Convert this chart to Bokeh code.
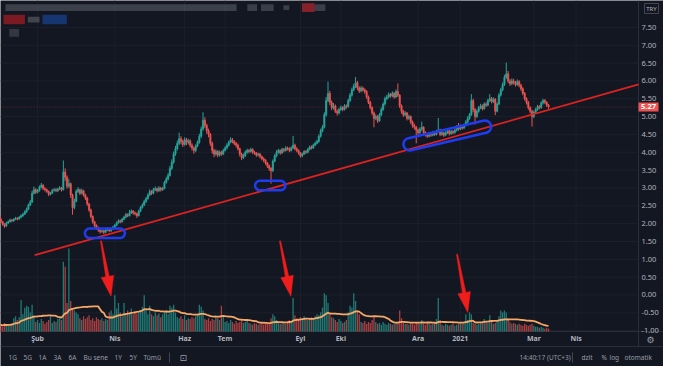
import numpy as np
import pandas as pd
from bokeh.plotting import figure
from bokeh.models import Range1d, ColumnDataSource
from bokeh.core.properties import value
from bokeh.embed import file_html
from bokeh.resources import INLINE

# ---------------- data ----------------
first_open = 2.22
closes = [
    2.18, 2.12, 2.05, 1.98, 1.93, 2.02, 2.05, 2.10, 2.08, 2.12,
    2.15, 2.13, 2.18, 2.22, 2.26, 2.33, 2.40, 2.52, 2.60, 2.85,
    2.95, 2.88, 2.92, 3.02, 3.08, 2.98, 2.95, 2.90, 2.82, 2.85,
    2.93, 2.95, 2.92, 2.97, 3.00, 2.95, 3.45, 3.30, 3.05, 3.12,
    2.80, 2.45, 2.62, 2.90, 2.95, 2.85, 2.92, 2.80, 2.72, 2.55,
    2.38, 2.20, 2.05, 1.95, 1.88, 1.82, 1.78, 1.80, 1.76, 1.82,
    1.85, 1.80, 1.86, 1.90, 1.95, 2.02, 2.08, 2.05, 2.12, 2.18,
    2.25, 2.22, 2.30, 2.35, 2.30, 2.28, 2.22, 2.35, 2.45, 2.52,
    2.62, 2.70, 2.80, 2.90, 2.85, 2.95, 2.98, 2.92, 3.00, 2.95,
    2.98, 3.15, 3.25, 3.35, 3.55, 3.72, 3.95, 4.10, 4.25, 4.38,
    4.30, 4.22, 4.35, 4.28, 4.32, 4.20, 4.12, 4.05, 4.18, 4.28,
    4.45, 4.65, 4.90, 4.75, 4.60, 4.50, 4.25, 4.05, 3.95, 4.02,
    3.92, 4.00, 3.95, 4.05, 4.12, 4.20, 4.28, 4.35, 4.30, 4.25,
    4.20, 4.10, 3.95, 3.85, 3.90, 4.00, 4.05, 4.02, 4.08, 4.00,
    3.98, 3.92, 3.95, 3.88, 3.82, 3.78, 3.70, 3.62, 3.55, 3.48,
    3.75, 3.90, 4.00, 4.05, 3.98, 4.08, 4.05, 4.12, 4.10, 4.05,
    4.12, 4.20, 4.10, 4.05, 3.98, 3.90, 3.95, 4.02, 4.00, 4.08,
    4.15, 4.12, 4.20, 4.25, 4.30, 4.45, 4.60, 4.70, 5.05, 5.45,
    5.65, 5.40, 5.25, 5.30, 5.15, 5.10, 5.20, 5.25, 5.20, 5.30,
    5.28, 5.45, 5.60, 5.75, 5.85, 5.95, 5.80, 5.72, 5.80, 5.75,
    5.70, 5.55, 5.40, 5.25, 5.10, 4.95, 5.00, 4.88, 5.05, 5.20,
    5.35, 5.50, 5.55, 5.62, 5.58, 5.65, 5.55, 5.70, 5.60, 5.30,
    5.15, 5.05, 5.10, 4.95, 5.00, 4.85, 4.75, 4.70, 4.62, 4.55,
    4.65, 4.70, 4.55, 4.50, 4.45, 4.52, 4.48, 4.55, 4.50, 4.58,
    4.62, 4.50, 4.55, 4.48, 4.55, 4.60, 4.52, 4.58, 4.55, 4.62,
    4.70, 4.65, 4.72, 4.68, 4.75, 4.85, 4.95, 5.05, 5.45, 5.20,
    5.00, 5.15, 5.25, 5.30, 5.22, 5.35, 5.32, 5.45, 5.50, 5.42,
    5.48, 5.15, 5.35, 5.60, 5.75, 5.90, 6.10, 6.20, 6.00, 5.92,
    6.00, 5.95, 5.90, 5.98, 5.88, 5.78, 5.65, 5.50, 5.40, 5.25,
    5.15, 5.00, 5.12, 5.20, 5.28, 5.25, 5.38, 5.45, 5.40, 5.32,
    5.27,
]
highs = [
    2.26, 2.22, 2.15, 2.08, 2.01, 2.05, 2.09, 2.14, 2.13, 2.15,
    2.19, 2.18, 2.21, 2.26, 2.30, 2.37, 2.45, 2.56, 2.66, 2.92,
    3.04, 2.99, 2.97, 3.07, 3.14, 3.10, 3.02, 2.98, 2.93, 2.89,
    2.97, 3.00, 2.99, 3.01, 3.05, 3.03, 3.77, 3.55, 3.35, 3.25,
    3.15, 2.84, 2.70, 2.96, 3.02, 2.98, 2.98, 2.95, 2.84, 2.75,
    2.58, 2.42, 2.23, 2.08, 1.98, 1.92, 1.86, 1.84, 1.83, 1.86,
    1.90, 1.88, 1.89, 1.94, 1.99, 2.06, 2.12, 2.11, 2.16, 2.22,
    2.30, 2.29, 2.38, 2.40, 2.38, 2.34, 2.31, 2.39, 2.49, 2.57,
    2.67, 2.75, 2.85, 2.96, 2.94, 3.00, 3.04, 3.01, 3.05, 3.03,
    3.03, 3.20, 3.31, 3.42, 3.62, 3.80, 4.02, 4.18, 4.33, 4.55,
    4.45, 4.36, 4.42, 4.40, 4.38, 4.36, 4.25, 4.16, 4.22, 4.33,
    4.52, 4.72, 5.12, 4.98, 4.80, 4.66, 4.54, 4.30, 4.10, 4.08,
    4.06, 4.05, 4.04, 4.10, 4.17, 4.25, 4.33, 4.42, 4.40, 4.34,
    4.29, 4.24, 4.13, 3.99, 3.96, 4.05, 4.10, 4.09, 4.13, 4.11,
    4.04, 4.01, 3.99, 3.98, 3.91, 3.86, 3.81, 3.73, 3.66, 3.58,
    3.80, 3.95, 4.06, 4.10, 4.08, 4.13, 4.12, 4.17, 4.16, 4.14,
    4.17, 4.46, 4.24, 4.14, 4.08, 4.01, 3.99, 4.06, 4.06, 4.12,
    4.19, 4.19, 4.24, 4.30, 4.35, 4.50, 4.66, 4.76, 5.12, 5.55,
    5.98, 5.72, 5.45, 5.38, 5.34, 5.20, 5.25, 5.31, 5.29, 5.35,
    5.34, 5.50, 5.66, 5.81, 5.92, 6.11, 6.00, 5.85, 5.86, 5.84,
    5.79, 5.74, 5.59, 5.44, 5.29, 5.14, 5.06, 5.04, 5.10, 5.26,
    5.40, 5.56, 5.61, 5.68, 5.66, 5.71, 5.69, 5.76, 5.93, 5.63,
    5.34, 5.19, 5.15, 5.13, 5.05, 5.03, 4.89, 4.80, 4.74, 4.66,
    4.70, 4.86, 4.73, 4.59, 4.54, 4.57, 4.56, 4.60, 4.59, 4.63,
    4.96, 4.66, 4.60, 4.58, 4.59, 4.65, 4.63, 4.63, 4.62, 4.67,
    4.76, 4.82, 4.78, 4.76, 4.80, 4.90, 5.01, 5.10, 5.63, 5.50,
    5.24, 5.20, 5.30, 5.36, 5.34, 5.40, 5.40, 5.50, 5.63, 5.55,
    5.54, 5.52, 5.40, 5.66, 5.81, 5.96, 6.17, 6.51, 6.28, 6.05,
    6.07, 6.06, 6.00, 6.04, 6.02, 5.92, 5.82, 5.69, 5.54, 5.44,
    5.29, 5.19, 5.17, 5.25, 5.33, 5.32, 5.43, 5.50, 5.49, 5.43,
    5.35,
]
lows = [
    2.13, 2.08, 2.01, 1.94, 1.88, 1.91, 1.99, 2.03, 2.04, 2.05,
    2.10, 2.09, 2.11, 2.15, 2.19, 2.24, 2.30, 2.38, 2.49, 2.58,
    2.82, 2.83, 2.85, 2.90, 2.99, 2.94, 2.90, 2.86, 2.77, 2.79,
    2.83, 2.90, 2.88, 2.89, 2.94, 2.90, 2.93, 3.20, 2.98, 3.00,
    2.72, 2.25, 2.40, 2.60, 2.86, 2.80, 2.82, 2.76, 2.66, 2.50,
    2.33, 2.15, 2.00, 1.90, 1.83, 1.77, 1.72, 1.74, 1.70, 1.73,
    1.79, 1.76, 1.77, 1.83, 1.87, 1.93, 2.00, 2.01, 2.03, 2.10,
    2.15, 2.18, 2.20, 2.27, 2.25, 2.23, 2.16, 2.20, 2.32, 2.42,
    2.49, 2.58, 2.67, 2.77, 2.80, 2.82, 2.91, 2.87, 2.89, 2.90,
    2.92, 2.96, 3.12, 3.21, 3.32, 3.50, 3.68, 3.90, 4.05, 4.20,
    4.22, 4.15, 4.18, 4.20, 4.22, 4.14, 4.05, 3.96, 4.00, 4.14,
    4.24, 4.40, 4.60, 4.68, 4.52, 4.42, 4.18, 3.96, 3.86, 3.90,
    3.86, 3.88, 3.90, 3.92, 4.02, 4.08, 4.16, 4.25, 4.25, 4.20,
    4.14, 4.05, 3.88, 3.78, 3.81, 3.87, 3.96, 3.97, 3.99, 3.95,
    3.93, 3.87, 3.88, 3.83, 3.77, 3.72, 3.65, 3.56, 3.48, 3.12,
    3.45, 3.72, 3.86, 3.96, 3.93, 3.95, 4.00, 4.02, 4.05, 4.00,
    4.02, 4.09, 4.05, 4.00, 3.93, 3.85, 3.86, 3.92, 3.95, 3.97,
    4.05, 4.08, 4.09, 4.17, 4.22, 4.27, 4.41, 4.56, 4.67, 5.00,
    5.40, 5.32, 5.18, 5.20, 5.10, 5.03, 5.06, 5.16, 5.15, 5.17,
    5.22, 5.25, 5.41, 5.56, 5.71, 5.80, 5.74, 5.66, 5.68, 5.70,
    5.64, 5.50, 5.35, 5.20, 5.04, 4.70, 4.90, 4.82, 4.85, 5.01,
    5.16, 5.31, 5.46, 5.51, 5.53, 5.54, 5.50, 5.52, 5.55, 5.24,
    5.08, 4.99, 5.01, 4.89, 4.91, 4.79, 4.69, 4.64, 4.25, 4.48,
    4.51, 4.60, 4.50, 4.44, 4.40, 4.42, 4.43, 4.45, 4.46, 4.47,
    4.55, 4.45, 4.46, 4.43, 4.45, 4.51, 4.47, 4.49, 4.50, 4.52,
    4.58, 4.60, 4.62, 4.63, 4.65, 4.72, 4.81, 4.91, 5.02, 5.12,
    4.78, 4.96, 5.11, 5.21, 5.17, 5.19, 5.27, 5.29, 5.41, 5.37,
    5.38, 5.04, 5.12, 5.32, 5.56, 5.71, 5.86, 6.05, 5.94, 5.86,
    5.88, 5.90, 5.84, 5.86, 5.82, 5.72, 5.60, 5.45, 5.34, 5.19,
    5.09, 4.72, 4.96, 5.08, 5.16, 5.20, 5.22, 5.34, 5.35, 5.27,
    5.22,
]
volumes = [
    6, 8, 7, 5, 9, 6, 7, 8, 9, 14,
    16, 12, 15, 33, 18, 25, 27, 26, 20, 28,
    17, 10, 12, 9, 13, 11, 8, 10, 12, 17,
    9, 11, 10, 13, 15, 12, 73, 68, 30, 87,
    32, 24, 22, 20, 18, 14, 12, 16, 13, 15,
    17, 12, 14, 11, 15, 13, 12, 14, 11, 13,
    12, 20, 22, 18, 38, 24, 30, 20, 16, 30,
    18, 22, 20, 24, 18, 21, 19, 20, 22, 26,
    38, 22, 18, 27, 18, 16, 20, 17, 19, 15,
    18, 20, 22, 18, 27, 25, 28, 20, 15, 14,
    16, 13, 17, 12, 14, 13, 15, 14, 16, 18,
    28, 26, 22, 13, 12, 14, 11, 13, 12, 15,
    14, 12, 27, 16, 10, 11, 9, 12, 10, 8,
    11, 9, 10, 12, 9, 10, 11, 9, 8, 7,
    9, 8, 7, 8, 9, 7, 8, 9, 8, 14,
    18, 16, 12, 9, 8, 10, 9, 8, 10, 12,
    10, 35, 17, 14, 12, 15, 13, 16, 14, 12,
    13, 15, 14, 16, 18, 17, 20, 25, 40, 38,
    30, 18, 15, 14, 12, 10, 13, 11, 9, 10,
    12, 20, 27, 25, 40, 32, 22, 18, 10, 9,
    11, 8, 10, 9, 12, 15, 10, 8, 9, 7,
    10, 8, 7, 9, 8, 7, 8, 9, 10, 22,
    14, 9, 8, 8, 7, 9, 8, 7, 10, 9,
    8, 12, 8, 7, 9, 8, 7, 8, 9, 13,
    35, 12, 7, 6, 8, 7, 6, 7, 8, 6,
    7, 8, 9, 8, 10, 18, 12, 20, 18, 9,
    8, 7, 8, 9, 10, 13, 10, 9, 17, 10,
    8, 9, 11, 16, 22, 20, 22, 20, 14, 10,
    8, 9, 8, 7, 8, 7, 6, 8, 7, 6,
    7, 8, 6, 5, 5, 4, 5, 4, 3, 4,
    3,
]
start_date = "2020-01-02"
holidays = ["2020-01-01", "2020-04-23", "2020-05-01", "2020-05-19", "2020-05-25",
            "2020-05-26", "2020-07-15", "2020-07-31", "2020-08-03", "2020-10-29",
            "2021-01-01"]
month_starts = ["2020-02-01", "2020-04-01", "2020-06-01", "2020-07-01", "2020-09-01",
                "2020-10-01", "2020-12-01", "2021-01-01", "2021-03-01", "2021-04-01"]
month_labels = ["Şub", "Nis", "Haz", "Tem", "Eyl", "Eki", "Ara", "2021", "Mar", "Nis"]
price_ticks = [-1.0, -0.5, 0.0, 0.5, 1.0, 1.5, 2.0, 2.5, 3.0, 3.5, 4.0,
               4.5, 5.0, 5.5, 6.0, 6.5, 7.0, 7.5]
last_price = 5.27
currency = "TRY"
# hand-drawn trend line (bar index, price)
trend_idx = [20.4, 349.0]
trend_price = [1.115, 5.90]
vol_ma_len = 20
range_buttons = ["1G", "5G", "1A", "3A", "6A", "Bu sene", "1Y", "5Y", "Tümü"]
clock_text = "14:40:17 (UTC+3)"
right_buttons = ["dzlt", "%", "log", "otomatik"]

# ---------------- styling / layout ----------------
BG = "#131722"
GRID = "#1c202c"
BORDER = "#2a2e39"
TXT = "#b2b5be"
TXT2 = "#9a9da6"
UP = "#26a69a"
DN = "#ef5350"
BLUE = "#1f3cf0"
ARROW_RED = "#f01d1d"
TREND_RED = "#dd2222"
FONT = "Noto Sans"

FW, FH = 663, 366          # figure size
RB, BB = 25, 35            # right price-scale strip, bottom strip (time axis + toolbar)
CW, CH = FW - RB, FH - BB  # chart pane size

# reference calibration (reference pixel -> data)
PX_PER_BAR, X_OFF = 1.884, 3.4
PX_PER_UNIT, Y_REF, P_REF = 37.4, 84.3, 6.00
REF_W, REF_H = 654, 347


def ref_to_data(xp, yp):
    return (xp + X_OFF) / PX_PER_BAR, P_REF - (yp - Y_REF) / PX_PER_UNIT


x0, y1 = ref_to_data(0, 0)
x1, y0 = ref_to_data(REF_W, REF_H)
bar_per_px = (x1 - x0) / CW
unit_per_px = (y1 - y0) / CH


def fx(px):  # figure px from left -> data x
    return x0 + px * bar_per_px


def fy(py):  # figure px from top -> data y
    return y1 - py * unit_per_px


# trading calendar
dates = pd.bdate_range(start_date, "2021-04-30")
dates = dates[~dates.isin(pd.to_datetime(holidays))]
tick_idx = [int(np.searchsorted(dates.values, np.datetime64(m))) for m in month_starts]

n = len(closes)
idx = list(range(n))
opens = [first_open] + closes[:-1]
colors = [UP if c >= o else DN for o, c in zip(opens, closes)]
src = ColumnDataSource(dict(
    i=idx, o=opens, c=closes, h=highs, l=lows,
    top=[max(o, c) for o, c in zip(opens, closes)],
    bot=[min(o, c) for o, c in zip(opens, closes)],
    col=colors, vol=volumes,
))
vol_ma = pd.Series(volumes, dtype=float).rolling(vol_ma_len, min_periods=1).mean().tolist()

p = figure(width=FW, height=FH, x_range=Range1d(fx(0), fx(FW)), y_range=Range1d(fy(FH), fy(0)),
           output_backend="svg", toolbar_location=None, x_axis_location=None,
           y_axis_location=None, min_border=0, background_fill_color=BG,
           border_fill_color=BG, outline_line_color=None)
p.grid.visible = False
vol_per_px = REF_H / CH
p.extra_y_ranges = {"vol": Range1d(-BB * vol_per_px, REF_H)}

# grid (inside chart pane only)
p.segment(x0=[x0] * len(price_ticks), x1=[x1] * len(price_ticks), y0=price_ticks,
          y1=price_ticks, line_color=GRID, line_width=1)
p.segment(x0=tick_idx, x1=tick_idx, y0=[y0] * len(tick_idx), y1=[y1] * len(tick_idx),
          line_color=GRID, line_width=1)

# pane borders
p.segment(x0=[fx(0), fx(0), fx(CW)], x1=[fx(FW), fx(FW), fx(CW)],
          y0=[y0, fy(CH + 15), y1], y1=[y0, fy(CH + 15), fy(CH + 15)],
          line_color=BORDER, line_width=1)
p.segment(x0=[fx(169), fx(FW - 91)], x1=[fx(169), fx(FW - 91)],
          y0=[fy(CH + 21), fy(CH + 21)], y1=[fy(CH + 31), fy(CH + 31)],
          line_color="#434651", line_width=1)

# volume overlay
p.vbar(x="i", width=0.72, top="vol", bottom=0, fill_color="col", line_color=None,
       fill_alpha=0.68, source=src, y_range_name="vol")
p.line(idx, vol_ma, y_range_name="vol", line_color="#f5a867", line_width=1.8)

# candles
p.segment(x0="i", y0="l", x1="i", y1="h", line_color="col", line_width=1, source=src)
p.vbar(x="i", width=0.72, top="top", bottom="bot", fill_color="col", line_color="col",
       line_width=0.6, source=src)

# last price line
p.segment(x0=[x0], x1=[x1], y0=[last_price], y1=[last_price], line_color=DN,
          line_alpha=0.35, line_dash="1 2", line_width=1)

# trend line
p.line(trend_idx, trend_price, line_color=TREND_RED, line_width=1.8)


# highlight capsules (drawing objects, reference pixel geometry)
def stadium(cx, cy, length, thick, ang_deg, n_arc=14):
    a = np.radians(ang_deg)
    u = np.array([np.cos(a), -np.sin(a)])
    v = np.array([np.sin(a), np.cos(a)])
    r = thick / 2.0
    h = length / 2.0 - r
    c = np.array([cx, cy])
    pts = []
    for t in np.linspace(-np.pi / 2, np.pi / 2, n_arc):
        pts.append(c + (h + r * np.cos(t)) * u + r * np.sin(t) * v)
    for t in np.linspace(np.pi / 2, 3 * np.pi / 2, n_arc):
        pts.append(c + (-h + r * np.cos(t)) * u + r * np.sin(t) * v)
    pts.append(pts[0])
    xs, ys = zip(*[ref_to_data(a_, b_) for a_, b_ in pts])
    return list(xs), list(ys)


for cx, cy, L, T, ang in [(107, 244, 41, 10, 0), (276.5, 194, 31, 10, 0),
                          (458, 141.5, 92, 13, 13.4)]:
    xs, ys = stadium(cx, cy, L, T, ang)
    p.patch(xs, ys, fill_alpha=0, line_color=BLUE, line_width=2.5)


def arrow_shape(tx, ty, px, py, head_len=21, head_hw=6.5, tail_hw=0.6, neck_hw=1.8):
    d = np.array([px - tx, py - ty], dtype=float)
    d /= np.hypot(*d)
    nrm = np.array([-d[1], d[0]])
    T = np.array([tx, ty], dtype=float)
    P = np.array([px, py], dtype=float)
    B = P - d * head_len
    pts = [T + nrm * tail_hw, B + nrm * neck_hw, B + nrm * head_hw, P,
           B - nrm * head_hw, B - nrm * neck_hw, T - nrm * tail_hw]
    xs, ys = zip(*[ref_to_data(a_, b_) for a_, b_ in pts])
    return list(xs), list(ys)


for tx, ty, px, py in [(103, 252, 113.3, 310), (286.5, 252, 297.7, 310),
                       (468, 266, 479, 327)]:
    xs, ys = arrow_shape(tx, ty, px, py)
    p.patch(xs, ys, fill_color=ARROW_RED, line_color=ARROW_RED, line_width=0.5)


# blurred legend header (unreadable in the reference) as soft blobs
def ref_box(l, t, r, b, color, alpha):
    (xl, yt), (xr, yb) = ref_to_data(l, t), ref_to_data(r, b)
    p.quad(left=xl, right=xr, top=yt, bottom=yb, fill_color=color, fill_alpha=alpha,
           line_color=None)


ref_box(5, 4, 242, 11, "#9598a1", 0.32)
ref_box(253, 4, 263, 11, "#9598a1", 0.3)
ref_box(267, 4, 280, 11, "#9598a1", 0.3)
ref_box(290, 5, 296, 10, "#9598a1", 0.3)
ref_box(309, 3, 322, 12, "#b8262e", 0.7)
ref_box(322, 4, 333, 11, "#9598a1", 0.3)
ref_box(3, 15, 25, 25, "#8e1b22", 0.85)
ref_box(28, 17, 40, 23, "#9598a1", 0.35)
ref_box(43, 15, 68, 25, "#173a7a", 0.9)
ref_box(9, 30, 19, 38, "#9598a1", 0.25)

# price scale labels
p.text(x=[fx(CW + 3)] * len(price_ticks), y=price_ticks,
       text=[f"{t:.2f}" for t in price_ticks], text_font=value(FONT),
       text_font_size="7.5px", text_color=TXT, text_align="left", text_baseline="middle")

# time scale labels
p.text(x=tick_idx, y=[fy(CH + 7)] * len(tick_idx), text=month_labels,
       text_font=value(FONT), text_font_size="7px", text_color=TXT,
       text_align="center", text_baseline="middle", text_font_style="bold")

# last price tag
p.quad(left=[fx(CW)], right=[fx(CW + 20)], top=[last_price + 4.5 * unit_per_px],
       bottom=[last_price - 4.5 * unit_per_px], fill_color=DN, line_color=None)
p.text(x=[fx(CW + 10)], y=[last_price], text=[f"{last_price:.2f}"], text_font=value(FONT),
       text_font_size="7.5px", text_color="white", text_font_style="bold",
       text_align="center", text_baseline="middle")

# currency box
p.quad(left=[fx(CW + 6)], right=[fx(CW + 20)], top=[fy(3)], bottom=[fy(13)],
       fill_alpha=0, line_color="#434651", line_width=1)
p.text(x=[fx(CW + 13)], y=[fy(8)], text=[currency], text_font=value(FONT),
       text_font_size="6px", text_color=TXT, text_align="center", text_baseline="middle")

# settings gear
p.text(x=[fx(CW + 12)], y=[fy(CH + 8)], text=["⚙"], text_font=value("DejaVu Sans"),
       text_font_size="9px", text_color=TXT2, text_align="center", text_baseline="middle")

# bottom toolbar
left_x = [8, 23, 38, 53, 68, 83, 114, 129, 143]
p.text(x=[fx(v) for v in left_x], y=[fy(CH + 26)] * len(left_x), text=range_buttons,
       text_font=value(FONT), text_font_size="6.5px", text_color=TXT2,
       text_align="left", text_baseline="middle")
p.text(x=[fx(179)], y=[fy(CH + 26)], text=["⊡"], text_font=value("DejaVu Sans"),
       text_font_size="9px", text_color=TXT2, text_align="left", text_baseline="middle")
right_x = [FW - 82, FW - 62, FW - 54, FW - 39]
p.text(x=[fx(FW - 144)] + [fx(v) for v in right_x], y=[fy(CH + 26)] * 5,
       text=[clock_text] + right_buttons, text_font=value(FONT), text_font_size="6.5px",
       text_color=TXT2, text_align="left", text_baseline="middle")

open("out.html", "w").write(file_html(p, INLINE))
